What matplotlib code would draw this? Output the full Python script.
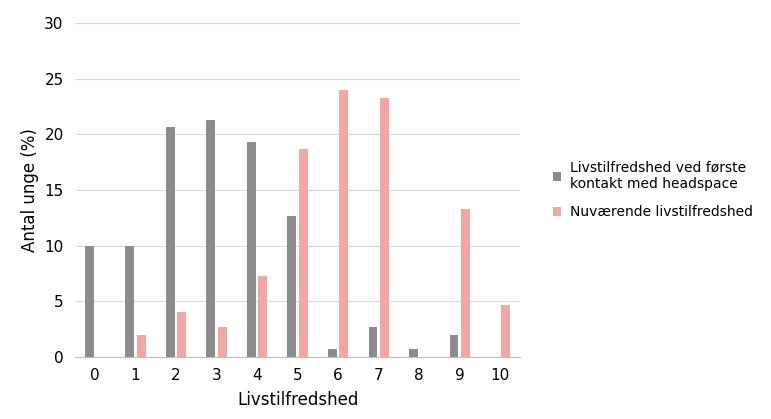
import matplotlib
matplotlib.use("Agg")
import matplotlib.pyplot as plt
import numpy as np

categories = ["0","1","2","3","4","5","6","7","8","9","10"]
first_contact = [10, 10, 20.7, 21.3, 19.3, 12.7, 0.7, 2.7, 0.7, 2, 0]
current = [0, 2, 4, 2.7, 7.3, 18.7, 24, 23.3, 0, 13.3, 4.7]

fig = plt.figure(figsize=(7.71, 4.19), dpi=100)
ax = fig.add_axes([0.097, 0.148, 0.578, 0.797])
x = np.arange(len(categories))
w = 0.22
ax.bar(x - 0.14, first_contact, w, color="#8c8c8c", label="Livstilfredshed ved første\nkontakt med headspace", zorder=3)
ax.bar(x + 0.14, current, w, color="#f4a6a4", label="Nuværende livstilfredshed", zorder=3)
ax.set_ylim(0, 30)
ax.set_xlim(-0.5, 10.5)
ax.set_yticks(range(0, 31, 5))
ax.set_xticks(x)
ax.set_xticklabels(categories)
ax.grid(axis="y", color="#d9d9d9", lw=0.8, zorder=0)
for s in ["top", "right", "left"]:
    ax.spines[s].set_visible(False)
ax.spines["bottom"].set_color("#bfbfbf")
ax.tick_params(length=0, labelsize=11, pad=8)
ax.set_xlabel("Livstilfredshed", fontsize=12, labelpad=6)
ax.set_ylabel("Antal unge (%)", fontsize=12)
ax.legend(loc="center left", bbox_to_anchor=(1.045, 0.5), frameon=False, fontsize=10,
          handlelength=0.6, handleheight=0.6, labelspacing=1.0, handletextpad=0.6)
fig.savefig("out.png", dpi=100)
